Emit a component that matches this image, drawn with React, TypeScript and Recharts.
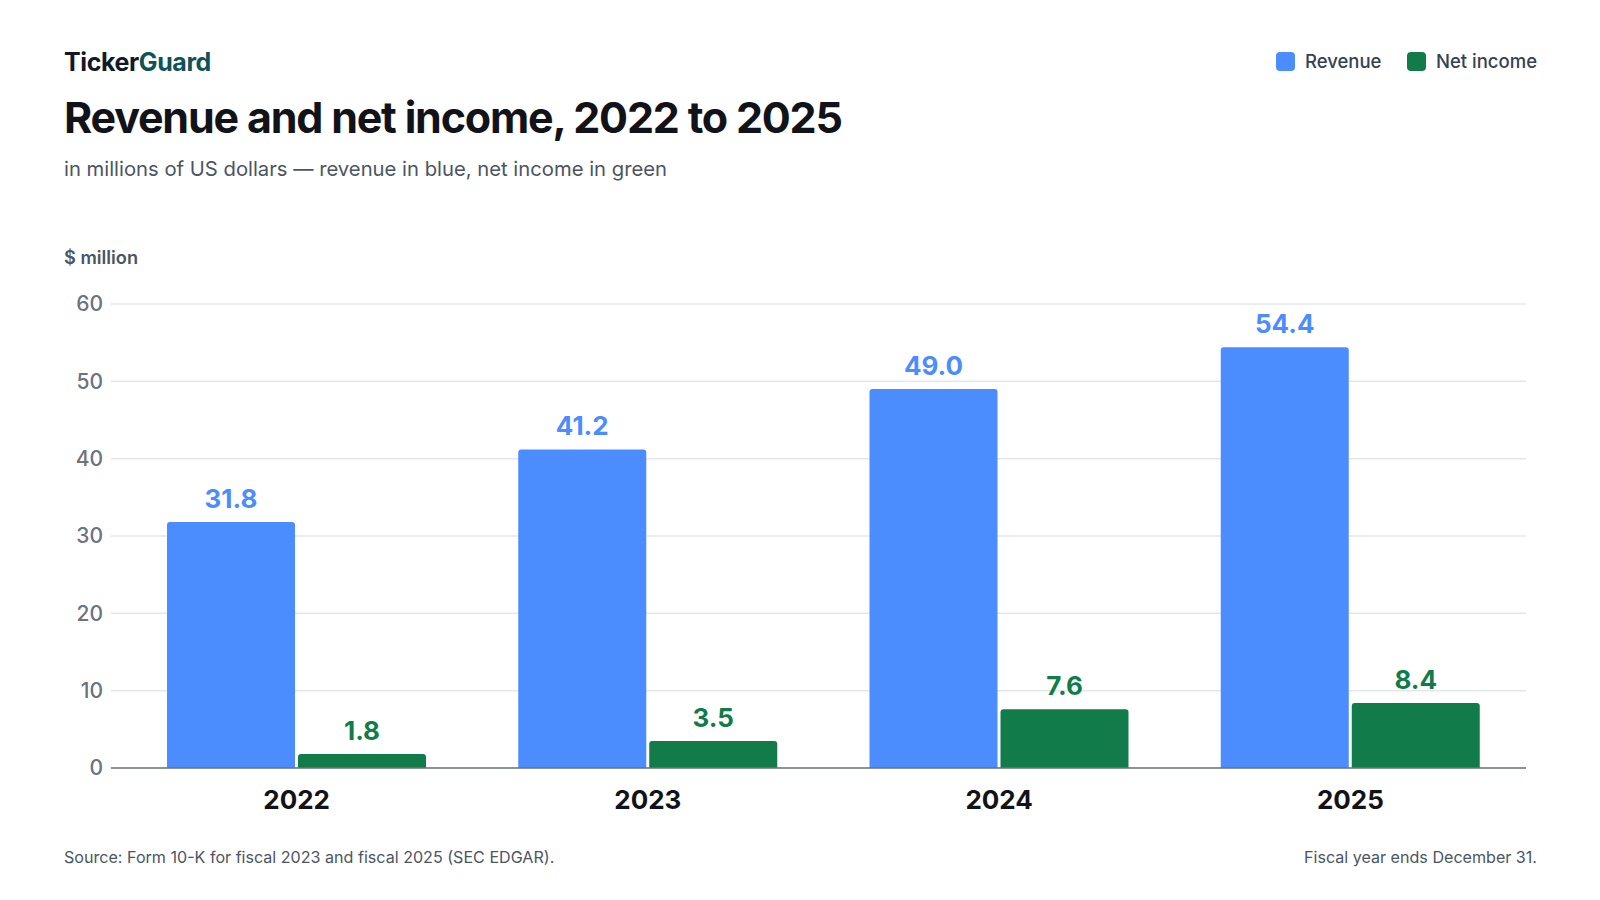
import React from "react";
import { BarChart, Bar, XAxis, YAxis, CartesianGrid, LabelList } from "recharts";

const years = ["2022", "2023", "2024", "2025"];
const revenue = [31.8, 41.2, 49.0, 54.4];
const netIncome = [1.8, 3.5, 7.6, 8.4];
const yTicks = [0, 10, 20, 30, 40, 50, 60];
const seriesNames = ["Revenue", "Net income"];
const seriesColors = ["#4b8dff", "#127b4a"];

const data = years.map((y, i) => ({ year: y, revenue: revenue[i], netIncome: netIncome[i] }));

const FONT = "Inter, 'Noto Sans', sans-serif";

export default function App() {
  return (
    <div style={{ position: "relative", width: 1600, height: 900, background: "#fff", fontFamily: FONT, overflow: "hidden" }}>
      <style>{`body{margin:0;}`}</style>
      <div style={{ position: "absolute", left: 64, top: 50, fontSize: 25, lineHeight: "25px", fontWeight: 700, letterSpacing: -0.4, color: "#111827" }}>
        Ticker<span style={{ color: "#0f5257" }}>Guard</span>
      </div>
      <div style={{ position: "absolute", left: 64, top: 96, fontSize: 43, lineHeight: "43px", fontWeight: 700, letterSpacing: -1.2, color: "#111318", whiteSpace: "nowrap" }}>
        Revenue and net income, 2022 to 2025
      </div>
      <div style={{ position: "absolute", left: 64, top: 159, fontSize: 20.25, lineHeight: "20px", fontWeight: 400, color: "#4b5563", whiteSpace: "nowrap" }}>
        in millions of US dollars — revenue in blue, net income in green
      </div>
      <div style={{ position: "absolute", left: 64, top: 248, fontSize: 18.2, lineHeight: "18px", fontWeight: 600, color: "#4b5563", whiteSpace: "nowrap" }}>
        $ million
      </div>
      <div style={{ position: "absolute", right: 63, top: 52, height: 19, display: "flex", alignItems: "center", gap: 0 }}>
        {seriesNames.map((n, i) => (
          <div key={n} style={{ display: "flex", alignItems: "center", marginLeft: i === 0 ? 0 : 26 }}>
            <div style={{ width: 18.5, height: 18.5, borderRadius: 4, background: seriesColors[i], marginRight: 10 }} />
            <span style={{ fontSize: 18.5, lineHeight: "19px", fontWeight: 500, color: "#334155", whiteSpace: "nowrap" }}>{n}</span>
          </div>
        ))}
      </div>
      <div style={{ position: "absolute", left: 64, top: 848.5, fontSize: 16.1, lineHeight: "16px", color: "#4b5563", whiteSpace: "nowrap" }}>
        Source: Form 10-K for fiscal 2023 and fiscal 2025 (SEC EDGAR).
      </div>
      <div style={{ position: "absolute", right: 63, top: 848.5, fontSize: 16.1, lineHeight: "16px", color: "#4b5563", whiteSpace: "nowrap" }}>
        Fiscal year ends December 31.
      </div>
      <div style={{ position: "absolute", left: 0, top: 0 }}>
        <BarChart
          width={1600}
          height={900}
          data={data}
          margin={{ top: 304, right: 74, bottom: 92, left: 0 }}
          barSize={128}
          barGap={3}
        >
          <CartesianGrid vertical={false} stroke="#e5e7eb" strokeWidth={1.5} />
          <XAxis
            dataKey="year"
            height={40}
            padding={{ left: 10, right: 0 }}
            tickLine={false}
            tickSize={0}
            tickMargin={23}
            axisLine={{ stroke: "#6b7280", strokeWidth: 1.5 }}
            tick={{ fill: "#111318", fontSize: 26, fontWeight: 700, fontFamily: FONT }}
          />
          <YAxis
            width={111}
            domain={[0, 60]}
            ticks={yTicks}
            tickLine={false}
            axisLine={false}
            tickSize={0}
            tickMargin={8}
            tick={{ fill: "#6b7280", fontSize: 21, fontWeight: 500, fontFamily: FONT }}
          />
          <Bar dataKey="revenue" name={seriesNames[0]} fill={seriesColors[0]} radius={[3, 3, 0, 0]} isAnimationActive={false}>
            <LabelList
              dataKey="revenue"
              position="top"
              offset={14}
              formatter={(v: number) => v.toFixed(1)}
              style={{ fill: seriesColors[0], fontSize: 26, fontWeight: 700, fontFamily: FONT }}
            />
          </Bar>
          <Bar dataKey="netIncome" name={seriesNames[1]} fill={seriesColors[1]} radius={[3, 3, 0, 0]} isAnimationActive={false}>
            <LabelList
              dataKey="netIncome"
              position="top"
              offset={14}
              formatter={(v: number) => v.toFixed(1)}
              style={{ fill: seriesColors[1], fontSize: 26, fontWeight: 700, fontFamily: FONT }}
            />
          </Bar>
        </BarChart>
      </div>
    </div>
  );
}
